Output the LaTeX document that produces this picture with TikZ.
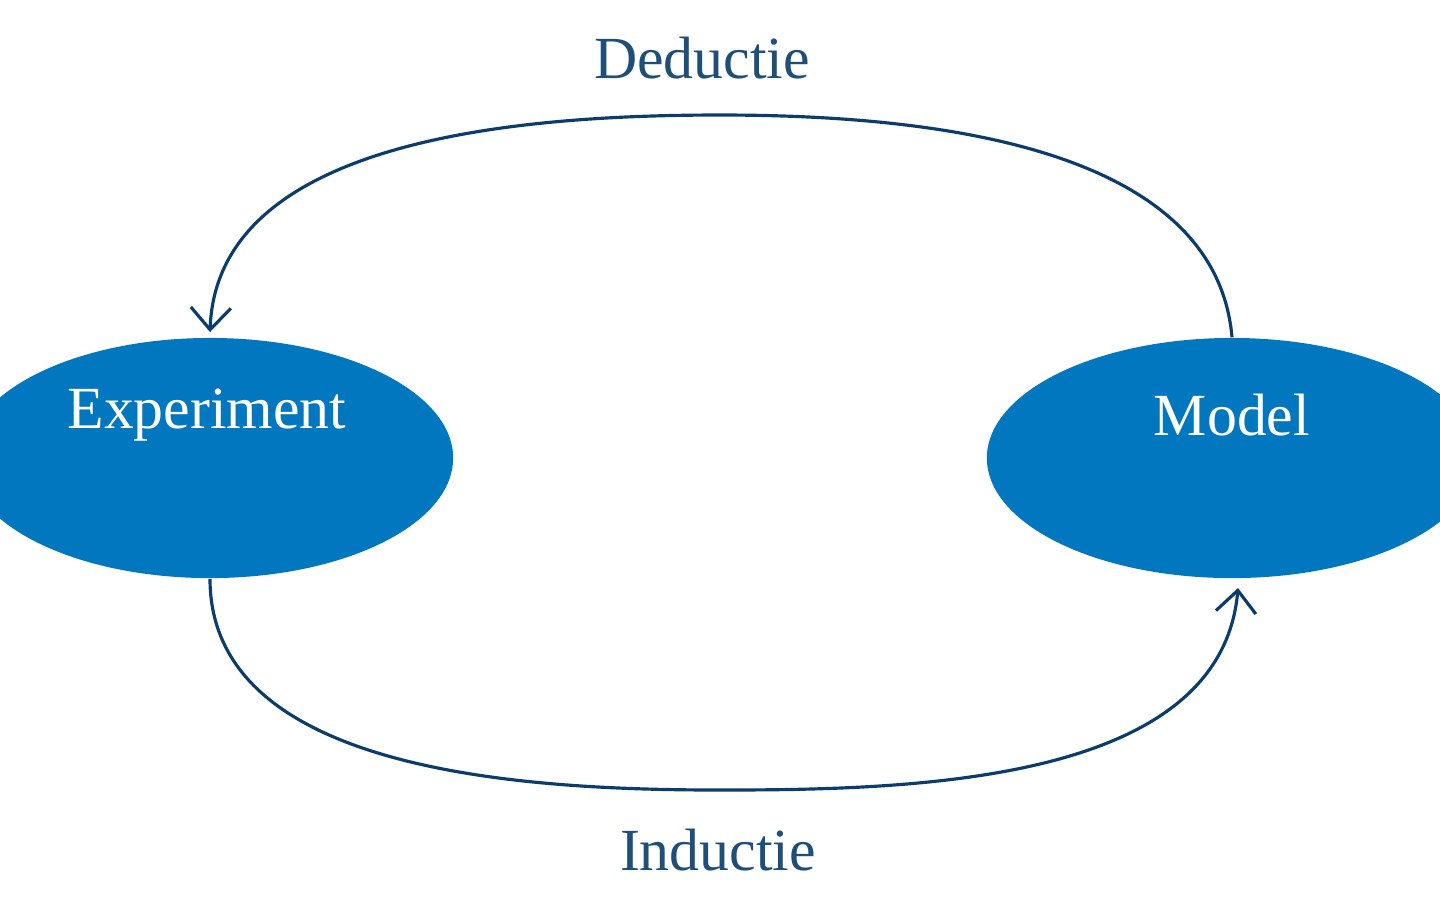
\documentclass[tikz,border=0pt]{standalone}
\usepackage{fontspec}
\setmainfont{Liberation Serif}
\usetikzlibrary{arrows.meta,shapes.geometric}
\definecolor{fillblue}{HTML}{0077BE}
\definecolor{linenavy}{HTML}{0B3C6B}
\definecolor{labnavy}{HTML}{1F4E79}
\tikzset{
  blob/.style={ellipse, fill=fillblue, draw=none, minimum width=4.86cm, minimum height=2.4cm, inner sep=0pt},
  blobtext/.style={text=white, font=\fontsize{17}{20}\selectfont},
  lab/.style={text=labnavy, font=\fontsize{17}{20}\selectfont},
  flow/.style={draw=linenavy, line width=0.9pt, -{Straight Barb[length=2.2mm,width=4mm,line width=0.9pt]}}
}
\begin{document}
\begin{tikzpicture}[x=0.01cm,y=-0.01cm]
\useasboundingbox (0,0) rectangle (1440,917);
\clip (0,0) rectangle (1440,917);
\node[blob] (exp) at (210,458) {};
\node[blob, minimum width=4.9cm] (mod) at (1232,458) {};
\node[blobtext] (expt) at (207,415) {Experiment};
\node[blobtext] (modt) at (1232,415) {Model};
\node[lab] (ded) at (702,58) {Deductie};
\node[lab] (ind) at (718,850) {Inductie};
\coordinate (dtop) at (720,115);
\coordinate (dend) at (210,332);
\coordinate (ibot) at (720,790);
\coordinate (iend) at (1238,588);
\draw[flow] (mod.north) to[out=95,in=0,looseness=0.9] (dtop) to[out=180,in=88,looseness=0.9] (dend);
\draw[flow] (exp.south) to[out=-90,in=180,looseness=0.9] (ibot) to[out=0,in=-95,looseness=0.9] (iend);
\end{tikzpicture}
\end{document}
